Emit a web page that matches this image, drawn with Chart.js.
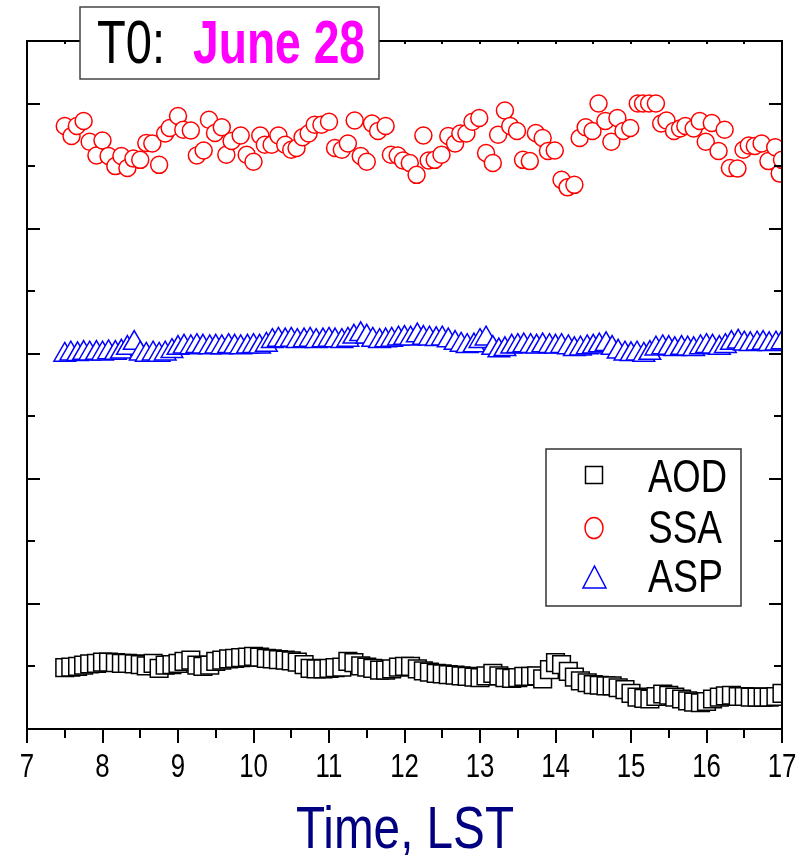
<!DOCTYPE html>
<html>
<head>
<meta charset="utf-8">
<script src="https://cdn.jsdelivr.net/npm/chart.js@4.4.1/dist/chart.umd.min.js"></script>
<style>
  body { margin: 0; background: #fff; }
  canvas { display: block; }
</style>
</head>
<body>
<canvas id="chart" width="806" height="855"></canvas>
<script>
// time axis, hours LST (5-minute records for AOD and ASP)
var timeLST = [
  7.50, 7.58, 7.67, 7.75, 7.83, 7.92,
  8.00, 8.08, 8.17, 8.25, 8.33, 8.42, 8.50, 8.58, 8.67, 8.75, 8.83, 8.92,
  9.00, 9.08, 9.17, 9.25, 9.33, 9.42, 9.50, 9.58, 9.67, 9.75, 9.83, 9.92,
  10.00, 10.08, 10.17, 10.25, 10.33, 10.42, 10.50, 10.58, 10.67, 10.75, 10.83, 10.92,
  11.00, 11.08, 11.17, 11.25, 11.33, 11.42, 11.50, 11.58, 11.67, 11.75, 11.83, 11.92,
  12.00, 12.08, 12.17, 12.25, 12.33, 12.42, 12.50, 12.58, 12.67, 12.75, 12.83, 12.92,
  13.00, 13.08, 13.17, 13.25, 13.33, 13.42, 13.50, 13.58, 13.67, 13.75, 13.83, 13.92,
  14.00, 14.08, 14.17, 14.25, 14.33, 14.42, 14.50, 14.58, 14.67, 14.75, 14.83, 14.92,
  15.00, 15.08, 15.17, 15.25, 15.33, 15.42, 15.50, 15.58, 15.67, 15.75, 15.83, 15.92,
  16.00, 16.08, 16.17, 16.25, 16.33, 16.42, 16.50, 16.58, 16.67, 16.75, 16.83, 16.92,
  17.00
];

var aod = [
  0.098, 0.099, 0.100, 0.102, 0.104, 0.105,
  0.107, 0.107, 0.106, 0.105, 0.105, 0.104, 0.103, 0.101, 0.105, 0.097, 0.102, 0.103,
  0.105, 0.108, 0.110, 0.102, 0.100, 0.102, 0.108, 0.110, 0.112, 0.113, 0.114, 0.115,
  0.116, 0.115, 0.113, 0.112, 0.111, 0.110, 0.109, 0.107, 0.103, 0.097, 0.096, 0.096,
  0.097, 0.098, 0.099, 0.108, 0.106, 0.101, 0.099, 0.097, 0.094, 0.094, 0.096, 0.099,
  0.100, 0.100, 0.096, 0.093, 0.091, 0.089, 0.088, 0.087, 0.086, 0.085, 0.084, 0.083,
  0.082, 0.085, 0.089, 0.085, 0.082, 0.081, 0.082, 0.084, 0.084, 0.085, 0.080, 0.095,
  0.106, 0.103, 0.092, 0.083, 0.077, 0.074, 0.071, 0.070, 0.069, 0.069, 0.066, 0.063,
  0.057, 0.051, 0.049, 0.048, 0.052, 0.056, 0.054, 0.051, 0.048, 0.045, 0.043, 0.042,
  0.044, 0.048, 0.051, 0.053, 0.054, 0.052, 0.052, 0.051, 0.051, 0.051, 0.051, 0.052,
  0.057
];

var asp = [
  0.598, 0.600, 0.599, 0.601, 0.600, 0.601,
  0.600, 0.602, 0.601, 0.603, 0.609, 0.617, 0.600, 0.598, 0.600, 0.598, 0.600, 0.604,
  0.609, 0.611, 0.610, 0.612, 0.611, 0.610, 0.611, 0.610, 0.612, 0.611, 0.610, 0.611,
  0.612, 0.611, 0.614, 0.620, 0.622, 0.621, 0.622, 0.620, 0.621, 0.622, 0.620, 0.621,
  0.622, 0.621, 0.620, 0.622, 0.627, 0.631, 0.627, 0.622, 0.620, 0.621, 0.622, 0.624,
  0.625, 0.624, 0.629, 0.625, 0.624, 0.623, 0.624, 0.621, 0.617, 0.614, 0.612, 0.613,
  0.620, 0.624, 0.609, 0.605, 0.607, 0.611, 0.612, 0.613, 0.612, 0.611, 0.613, 0.612,
  0.611, 0.612, 0.610, 0.607, 0.608, 0.610, 0.611, 0.613, 0.615, 0.609, 0.603, 0.600,
  0.599, 0.600, 0.598, 0.601, 0.608, 0.610, 0.609, 0.607, 0.609, 0.608, 0.607, 0.610,
  0.612, 0.611, 0.609, 0.612, 0.617, 0.619, 0.616, 0.615, 0.616, 0.617, 0.615, 0.616,
  0.618
];

// SSA has its own (irregular) sampling
var ssaTime = [
  7.50, 7.59, 7.66, 7.75, 7.83, 7.92, 8.00, 8.08, 8.17, 8.25, 8.33, 8.41, 8.50, 8.58, 8.66, 8.75, 8.83, 8.89,
  9.00, 9.07, 9.17, 9.25, 9.34, 9.41, 9.49, 9.58, 9.64, 9.71, 9.83, 9.91,
  10.00, 10.09, 10.15, 10.24, 10.33, 10.42, 10.50, 10.57, 10.65, 10.73, 10.81, 10.90,
  11.00, 11.08, 11.17, 11.25, 11.34, 11.42, 11.50, 11.57, 11.65, 11.75, 11.82, 11.91, 11.98,
  12.07, 12.16, 12.25, 12.32, 12.40, 12.49, 12.58, 12.67, 12.74, 12.82, 12.90, 12.99,
  13.08, 13.17, 13.24, 13.33, 13.40, 13.49, 13.57, 13.66, 13.74, 13.83, 13.90, 13.99,
  14.08, 14.16, 14.25, 14.32, 14.40, 14.49, 14.57, 14.66, 14.74, 14.82, 14.90, 14.99,
  15.09, 15.16, 15.24, 15.33, 15.40, 15.47, 15.57, 15.65, 15.72, 15.83, 15.91, 15.99,
  16.07, 16.16, 16.24, 16.31, 16.41, 16.49, 16.56, 16.64, 16.73, 16.82, 16.91, 16.97, 17.00
];
var ssa = [
  0.964, 0.948, 0.964, 0.972, 0.939, 0.917, 0.941, 0.916, 0.900, 0.916, 0.897, 0.912, 0.910, 0.937, 0.936, 0.902, 0.952, 0.961,
  0.980, 0.958, 0.957, 0.917, 0.925, 0.974, 0.953, 0.962, 0.918, 0.940, 0.949, 0.918,
  0.907, 0.949, 0.934, 0.934, 0.949, 0.934, 0.926, 0.929, 0.946, 0.952, 0.966, 0.966,
  0.971, 0.929, 0.926, 0.936, 0.973, 0.916, 0.907, 0.968, 0.956, 0.964, 0.918, 0.917, 0.909,
  0.905, 0.886, 0.949, 0.909, 0.910, 0.918, 0.948, 0.936, 0.952, 0.952, 0.971, 0.977,
  0.921, 0.905, 0.950, 0.989, 0.964, 0.956, 0.910, 0.908, 0.953, 0.945, 0.924, 0.925,
  0.878, 0.866, 0.870, 0.945, 0.962, 0.956, 1.000, 0.972, 0.939, 0.977, 0.956, 0.961,
  1.000, 1.000, 1.000, 1.000, 0.968, 0.973, 0.956, 0.960, 0.964, 0.960, 0.972, 0.939,
  0.969, 0.924, 0.958, 0.897, 0.896, 0.926, 0.933, 0.932, 0.936, 0.908, 0.930, 0.888, 0.910
];

var xTicks = [7, 8, 9, 10, 11, 12, 13, 14, 15, 16, 17];
var xTitle = 'Time, LST';

var FONT = "'Liberation Sans', Arial, sans-serif";

function pairs(xs, ys) {
  return xs.map(function (t, i) { return { x: t, y: ys[i] }; });
}

// the original uses a condensed face; squeeze regular text horizontally
function squeezeText(ctx, str, x, y, sx) {
  ctx.save();
  ctx.translate(x, y);
  ctx.scale(sx, 1);
  ctx.fillText(str, 0, 0);
  ctx.restore();
}
function fitText(ctx, str, x, y, w) {
  squeezeText(ctx, str, x, y, w / ctx.measureText(str).width);
}

// axis frame: box, inward ticks on left/right/top, outward ticks on bottom
var framePlugin = {
  id: 'frame',
  afterDatasetsDraw: function (chart) {
    var ctx = chart.ctx, a = chart.chartArea;
    var x = chart.scales.x, y = chart.scales.y;
    ctx.save();
    ctx.strokeStyle = '#000';
    ctx.lineWidth = 2;
    ctx.beginPath();
    ctx.rect(a.left, a.top, a.right - a.left, a.bottom - a.top);
    for (var i = 1; i <= 10; i++) {
      var py = Math.round(y.getPixelForValue(i / 10));
      var len = i % 2 === 0 ? 13 : 8;
      ctx.moveTo(a.left, py); ctx.lineTo(a.left + len, py);
      ctx.moveTo(a.right, py); ctx.lineTo(a.right - len, py);
    }
    for (var h = 7; h <= 17; h += 0.5) {
      var px = Math.round(x.getPixelForValue(h));
      var tl = h % 1 === 0 ? 14 : 9;
      ctx.moveTo(px, a.bottom); ctx.lineTo(px, a.bottom + tl);
      ctx.moveTo(px, a.top); ctx.lineTo(px, a.top + 3);
    }
    ctx.stroke();

    // tick labels and axis title
    ctx.fillStyle = '#000';
    ctx.font = '34px ' + FONT;
    ctx.textAlign = 'center';
    ctx.textBaseline = 'alphabetic';
    xTicks.forEach(function (v) {
      squeezeText(ctx, String(v), x.getPixelForValue(v), a.bottom + 48, 0.76);
    });
    ctx.fillStyle = '#000080';
    ctx.font = '59px ' + FONT;
    squeezeText(ctx, xTitle, (a.left + a.right) / 2 + 0.5, a.bottom + 119,
      218 / ctx.measureText(xTitle).width);
    ctx.restore();
  },
  afterDraw: function (chart) {
    var ctx = chart.ctx;
    ctx.save();

    // title box
    ctx.fillStyle = '#fff';
    ctx.fillRect(80, 7, 299, 72);
    ctx.strokeStyle = '#444';
    ctx.lineWidth = 1.5;
    ctx.strokeRect(80, 7, 299, 72);
    ctx.textBaseline = 'alphabetic';
    ctx.fillStyle = '#000';
    ctx.font = '62px ' + FONT;
    fitText(ctx, 'T0:', 97, 63, 68);
    ctx.fillStyle = '#ff00ff';
    ctx.font = 'bold 62px ' + FONT;
    fitText(ctx, 'June 28', 193, 63, 172);

    // legend box
    ctx.fillStyle = '#fff';
    ctx.fillRect(546, 449, 195, 157);
    ctx.strokeStyle = '#333';
    ctx.lineWidth = 1.5;
    ctx.strokeRect(546, 449, 195, 157);

    ctx.strokeStyle = '#000';
    ctx.strokeRect(585.5, 466.5, 17, 17);

    ctx.strokeStyle = '#ff0000';
    ctx.beginPath();
    ctx.ellipse(594, 528, 9, 10.5, 0, 0, Math.PI * 2);
    ctx.stroke();

    ctx.strokeStyle = '#0000ff';
    ctx.beginPath();
    ctx.moveTo(594.5, 566);
    ctx.lineTo(606, 588);
    ctx.lineTo(583, 588);
    ctx.closePath();
    ctx.stroke();

    ctx.fillStyle = '#000';
    ctx.font = '46px ' + FONT;
    fitText(ctx, 'AOD', 648, 492, 79);
    fitText(ctx, 'SSA', 648, 543, 74);
    fitText(ctx, 'ASP', 648, 592, 75);

    ctx.restore();
  }
};

var ctx = document.getElementById('chart').getContext('2d');
var chart = new Chart(ctx, {
  type: 'scatter',
  data: {
    datasets: [
      {
        label: 'AOD',
        data: pairs(timeLST, aod),
        pointStyle: 'rect',
        pointRadius: 12.5,
        borderColor: '#000',
        backgroundColor: '#fff',
        borderWidth: 1.5,
        clip: 0
      },
      {
        label: 'SSA',
        data: pairs(ssaTime, ssa),
        pointStyle: 'circle',
        pointRadius: 8.5,
        borderColor: '#ff0000',
        backgroundColor: '#fff',
        borderWidth: 1.5,
        clip: 0
      },
      {
        label: 'ASP',
        data: pairs(timeLST, asp),
        pointStyle: 'triangle',
        pointRadius: 12.5,
        borderColor: '#0000ff',
        backgroundColor: '#fff',
        borderWidth: 1.5,
        clip: 0
      }
    ]
  },
  options: {
    responsive: false,
    animation: false,
    layout: { padding: { left: 27, right: 24, top: 41, bottom: 0 } },
    plugins: {
      legend: { display: false },
      tooltip: { enabled: false }
    },
    scales: {
      x: {
        type: 'linear',
        min: 7,
        max: 17,
        afterFit: function (scale) {
          scale.height = 126;
          scale.paddingLeft = 0;
          scale.paddingRight = 0;
        },
        grid: { display: false, drawTicks: false },
        border: { display: false },
        ticks: { display: false },
        title: { display: false }
      },
      y: {
        min: 0,
        max: 1.1,
        display: false
      }
    }
  },
  plugins: [framePlugin]
});
</script>
</body>
</html>
